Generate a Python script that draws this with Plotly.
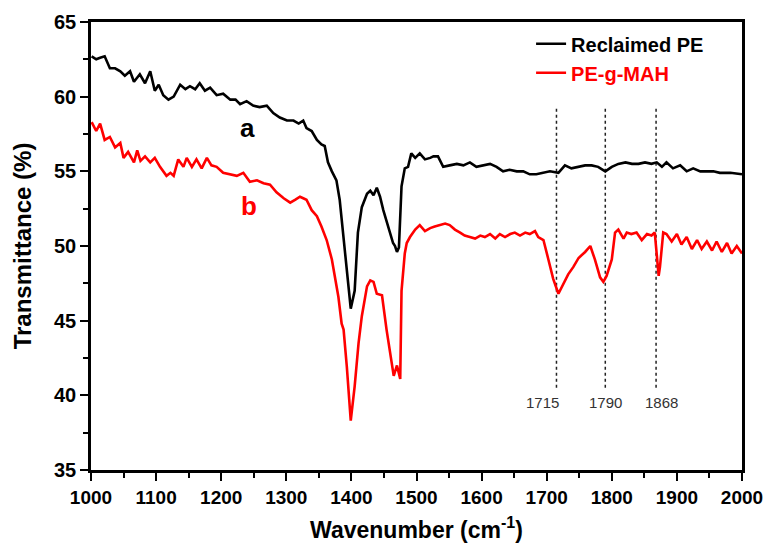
import plotly.graph_objects as go

# Curve a: Reclaimed PE
wn_a = [1001, 1008, 1014, 1021, 1029, 1037, 1045, 1052, 1060, 1066, 1075, 1083, 1091, 1098, 1104,
        1111, 1119, 1127, 1137, 1145, 1152, 1160, 1167, 1175, 1183, 1193, 1203, 1214, 1222, 1229,
        1239, 1249, 1259, 1270, 1280, 1290, 1301, 1311, 1319, 1326, 1331, 1339, 1347, 1354, 1359,
        1364, 1370, 1377, 1382, 1387, 1393, 1399, 1405, 1410, 1416, 1424, 1429, 1434, 1439, 1444,
        1449, 1454, 1459, 1464, 1467, 1470, 1473, 1477, 1482, 1487, 1492, 1498, 1505, 1513, 1521,
        1526, 1533, 1541, 1551, 1562, 1572, 1582, 1592, 1602, 1613, 1623, 1633, 1643, 1654, 1664,
        1674, 1684, 1695, 1705, 1718, 1728, 1738, 1749, 1759, 1769, 1779, 1790, 1800, 1810, 1821,
        1831, 1841, 1851, 1861, 1869, 1877, 1884, 1894, 1905, 1915, 1925, 1936, 1946, 1956, 1966,
        1982, 2000]
tr_a = [62.7, 62.5, 62.6, 62.7, 61.9, 61.9, 61.7, 61.4, 61.7, 61.0, 61.5, 60.9, 61.7, 60.4, 60.8,
        60.1, 59.8, 60.0, 60.8, 60.5, 60.7, 60.5, 60.9, 60.4, 60.6, 60.1, 60.2, 59.8, 59.8, 59.5,
        59.7, 59.4, 59.3, 59.4, 58.9, 58.6, 58.4, 58.4, 58.2, 58.4, 57.9, 57.7, 57.1, 56.8, 56.7,
        55.6, 55.0, 54.4, 53.1, 50.9, 48.6, 45.8, 47.0, 50.9, 52.6, 53.5, 53.7, 53.4, 53.9, 53.3,
        52.4, 51.7, 50.9, 50.2, 50.0, 49.6, 49.9, 54.0, 55.2, 55.3, 56.2, 55.9, 56.2, 55.8, 55.9,
        56.0, 56.0, 55.3, 55.4, 55.5, 55.4, 55.6, 55.3, 55.4, 55.5, 55.3, 55.0, 55.1, 55.0, 55.0,
        54.8, 54.8, 54.9, 55.0, 54.9, 55.4, 55.2, 55.3, 55.4, 55.4, 55.3, 55.0, 55.3, 55.5, 55.6,
        55.5, 55.5, 55.6, 55.5, 55.6, 55.3, 55.6, 55.2, 55.4, 55.0, 55.2, 55.0, 55.0, 55.0, 54.9,
        54.9, 54.8]

# Curve b: PE-g-MAH
wn_b = [1001, 1008, 1014, 1021, 1029, 1037, 1045, 1050, 1057, 1066, 1071, 1076, 1083, 1091, 1098,
        1106, 1116, 1122, 1127, 1134, 1142, 1147, 1155, 1162, 1170, 1178, 1185, 1193, 1203, 1214,
        1224, 1234, 1244, 1255, 1265, 1275, 1285, 1296, 1306, 1314, 1321, 1326, 1331, 1339, 1347,
        1354, 1362, 1370, 1375, 1380, 1385, 1388, 1393, 1399, 1405, 1411, 1416, 1424, 1429, 1434,
        1439, 1447, 1454, 1462, 1465, 1470, 1475, 1477, 1482, 1485, 1490, 1498, 1505, 1513, 1521,
        1528, 1536, 1544, 1551, 1559, 1567, 1574, 1582, 1590, 1598, 1605, 1613, 1621, 1628, 1636,
        1644, 1651, 1659, 1667, 1674, 1682, 1687, 1695, 1702, 1710, 1718, 1725, 1733, 1741, 1749,
        1759, 1767, 1774, 1782, 1787, 1792, 1800, 1805, 1810, 1818, 1823, 1830, 1838, 1846, 1854,
        1861, 1866, 1870, 1872, 1874, 1879, 1884, 1892, 1900, 1907, 1915, 1923, 1931, 1938, 1946,
        1954, 1961, 1969, 1977, 1984, 1992, 2000]
tr_b = [58.3, 57.7, 58.2, 57.1, 57.3, 56.6, 56.9, 55.9, 56.3, 55.6, 56.4, 55.7, 56.0, 55.6, 55.9,
        55.3, 54.7, 54.9, 54.7, 55.8, 55.3, 55.9, 55.3, 55.8, 55.2, 55.9, 55.4, 55.3, 54.9, 54.8,
        54.7, 54.9, 54.3, 54.4, 54.2, 54.1, 53.6, 53.2, 52.9, 53.1, 53.3, 53.2, 53.1, 52.4, 52.0,
        51.3, 50.4, 49.1, 47.9, 46.6, 44.8, 44.4, 41.9, 38.3, 40.6, 43.5, 45.3, 47.3, 47.7, 47.6,
        46.8, 46.7, 44.4, 42.1, 41.3, 42.0, 41.1, 47.0, 49.5, 50.2, 50.6, 51.1, 51.4, 51.0, 51.2,
        51.3, 51.4, 51.5, 51.4, 51.1, 50.9, 50.7, 50.6, 50.5, 50.7, 50.6, 50.8, 50.5, 50.8, 50.6,
        50.8, 50.9, 50.7, 50.9, 50.8, 51.0, 50.6, 50.4, 49.2, 47.8, 46.8, 47.4, 48.1, 48.6, 49.2,
        49.6, 50.0, 49.1, 47.9, 47.6, 48.0, 49.1, 50.9, 51.1, 50.5, 50.9, 50.8, 50.9, 50.4, 50.8,
        50.7, 50.9, 48.6, 48.0, 48.6, 50.9, 50.8, 50.3, 50.8, 50.1, 50.6, 49.8, 50.4, 49.8, 50.3,
        49.7, 50.3, 49.6, 50.2, 49.5, 50.0, 49.5]

peak_lines = [1715, 1790, 1868]
peak_labels = ["1715", "1790", "1868"]
peak_label_x = [1694, 1790, 1877]

FONT = "Liberation Sans, Arial, sans-serif"
BLACK = "#000000"
RED = "#ff0000"

fig = go.Figure()
fig.add_trace(go.Scatter(x=wn_a, y=tr_a, mode="lines", name="Reclaimed PE",
                         line=dict(color=BLACK, width=2.6)))
fig.add_trace(go.Scatter(x=wn_b, y=tr_b, mode="lines",
                         name="<span style='color:#ff0000'>PE-g-MAH</span>",
                         line=dict(color=RED, width=2.6)))

for xv, lab, lx in zip(peak_lines, peak_labels, peak_label_x):
    fig.add_shape(type="line", x0=xv, x1=xv, y0=40.5, y1=59.3, xref="x", yref="y",
                  line=dict(color="#222222", width=1.5, dash="dot"), layer="below")
    fig.add_annotation(x=lx, y=39.5, text=lab, showarrow=False, xref="x", yref="y",
                       font=dict(family=FONT, size=15, color="#333333"))

fig.add_annotation(x=1240, y=57.9, text="a", showarrow=False, xref="x", yref="y",
                   font=dict(family=FONT, size=26, color=BLACK, weight="bold"))
fig.add_annotation(x=1242, y=52.7, text="b", showarrow=False, xref="x", yref="y",
                   font=dict(family=FONT, size=26, color=RED, weight="bold"))

axis_common = dict(showline=True, linecolor=BLACK, linewidth=2.5, mirror=True,
                   ticks="outside", ticklen=8, tickwidth=2, tickcolor=BLACK,
                   showgrid=False, zeroline=False, automargin=False)

fig.update_layout(
    width=767, height=548,
    margin=dict(l=91, r=25, t=22, b=78, autoexpand=False),
    paper_bgcolor="white", plot_bgcolor="white",
    showlegend=True,
    legend=dict(x=0.676, y=0.995, xanchor="left", yanchor="top",
                bgcolor="rgba(0,0,0,0)", borderwidth=0,
                font=dict(family=FONT, size=20, color=BLACK, weight="bold"),
                tracegroupgap=0),
    xaxis=dict(range=[1000, 2000], dtick=100, tick0=1000,
               tickfont=dict(family=FONT, size=19, color=BLACK, weight="bold"),
               minor=dict(dtick=50, ticks="outside", ticklen=5, tickwidth=2, tickcolor=BLACK),
               title=dict(text="Wavenumber (cm<sup>-1</sup>)", standoff=16,
                          font=dict(family=FONT, size=23, color=BLACK, weight="bold")),
               **axis_common),
    yaxis=dict(range=[35, 65], dtick=5, tick0=35,
               tickfont=dict(family=FONT, size=20, color=BLACK, weight="bold"),
               minor=dict(dtick=2.5, ticks="outside", ticklen=5, tickwidth=2, tickcolor=BLACK),
               title=dict(text="Transmittance (%)", standoff=16,
                          font=dict(family=FONT, size=24, color=BLACK, weight="bold")),
               **axis_common),
)

fig.write_html("out.html")
